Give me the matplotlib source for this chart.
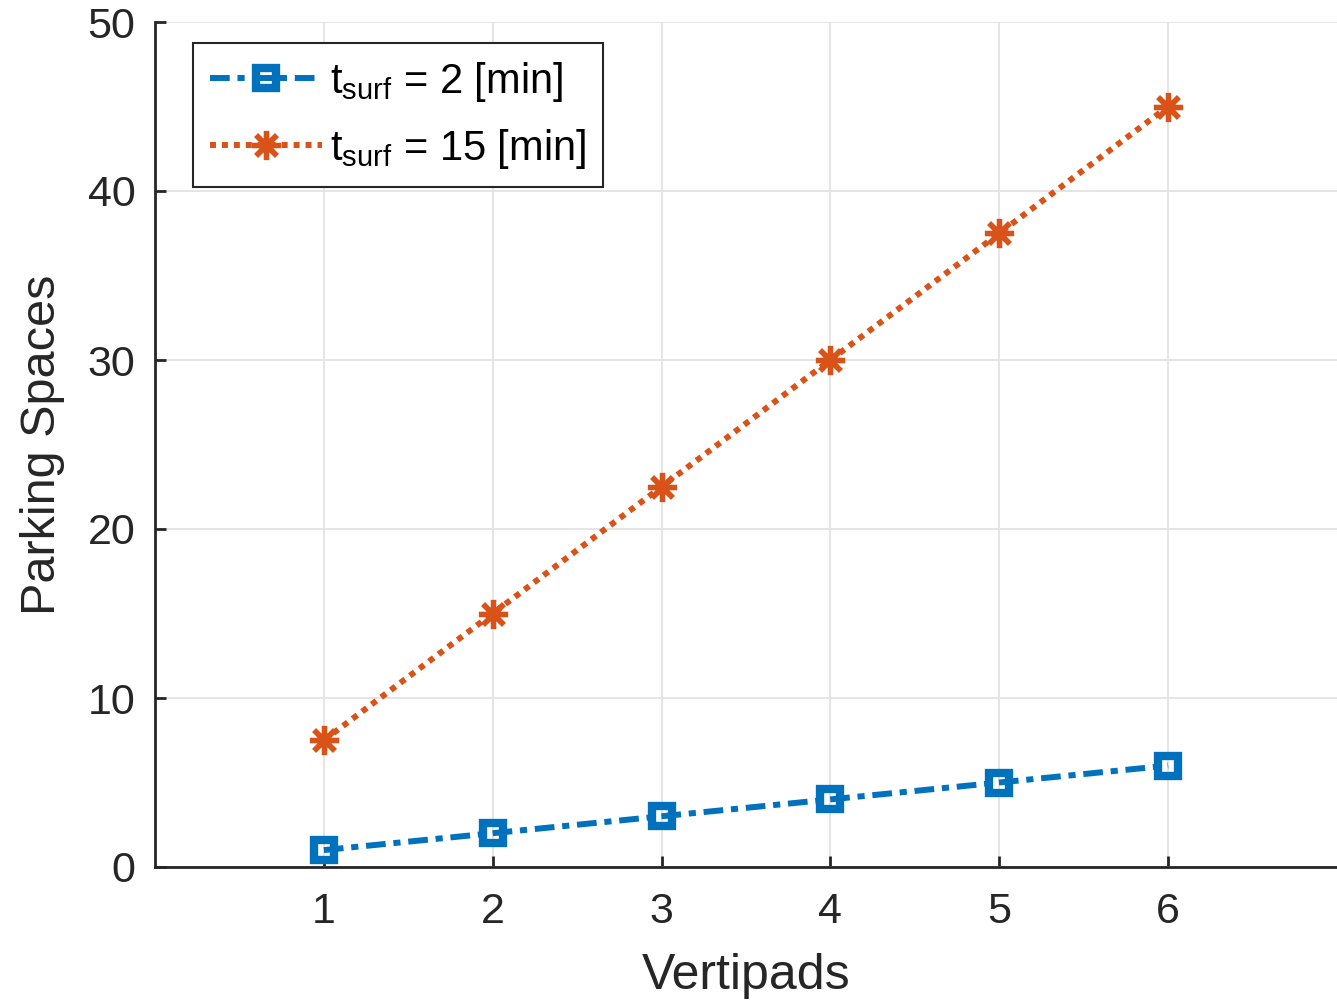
import matplotlib
matplotlib.use("Agg")
import matplotlib.pyplot as plt

vertipads = [1, 2, 3, 4, 5, 6]
spaces_2min = [1, 2, 3, 4, 5, 6]
spaces_15min = [7.5, 15, 22.5, 30, 37.5, 45]
labels = [r"$t_{surf}$ = 2 [min]", r"$t_{surf}$ = 15 [min]"]
xticks = [1, 2, 3, 4, 5, 6]
yticks = [0, 10, 20, 30, 40, 50]

plt.rcParams['font.family'] = ['Liberation Sans', 'DejaVu Sans']
plt.rcParams['mathtext.fontset'] = 'custom'
plt.rcParams['mathtext.rm'] = 'Liberation Sans'
plt.rcParams['mathtext.it'] = 'Liberation Sans'
plt.rcParams['mathtext.default'] = 'regular'

fig = plt.figure(figsize=(13.37, 10.02), dpi=100)
ax = fig.add_axes([155/1337, 1-867/1002, 1-155/1337, (867-22)/1002])

blue = '#0072BD'
orange = '#D95319'

ax.plot(vertipads, spaces_2min, color=blue, lw=4.3, dashes=(3.3, 1.3, 1.2, 1.3),
        marker='s', ms=14.5, mfc='none', mec=blue, mew=6, label=labels[0])
ax.plot(vertipads, spaces_15min, color=orange, lw=4.3, dashes=(1, 1),
        marker=(8, 2, 0), ms=21, mec=orange, mew=3.8, label=labels[1])

ax.set_xlim(0, 7)
ax.set_ylim(0, 50)
ax.set_xticks(xticks)
ax.set_yticks(yticks)
ax.grid(True, color='#E3E3E3', lw=1.3)
ax.set_axisbelow(True)
for s in ['top', 'right']:
    ax.spines[s].set_visible(False)
for s in ['left', 'bottom']:
    ax.spines[s].set_linewidth(2)
    ax.spines[s].set_color('#262626')
ax.tick_params(direction='in', length=8, width=2, color='#262626',
               labelsize=31, labelcolor='#262626')
ax.tick_params(axis='x', pad=18)
ax.tick_params(axis='y', pad=14)
ax.set_xlabel('Vertipads', fontsize=36, color='#262626', labelpad=15)
ax.set_ylabel('Parking Spaces', fontsize=35, color='#262626', labelpad=16)

leg = ax.legend(loc='upper left', bbox_to_anchor=(38/1182, 1-21/845),
                fontsize=30, fancybox=False, edgecolor='#262626',
                framealpha=1, handlelength=2.7, borderpad=0.4,
                labelspacing=0.55, handletextpad=0.2, borderaxespad=0)
leg.get_frame().set_linewidth(1.5)
for t in leg.get_texts():
    t.set_color('black')

fig.savefig('out.png', dpi=100)
